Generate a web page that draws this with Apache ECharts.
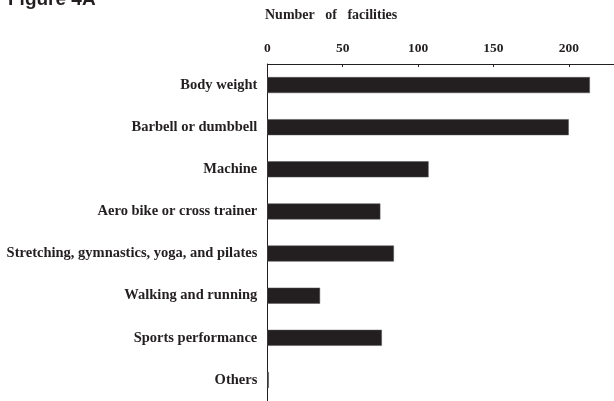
<!DOCTYPE html>
<html>
<head>
<meta charset="utf-8">
<script src="https://cdn.jsdelivr.net/npm/echarts@6/dist/echarts.min.js"></script>
<style>
html,body{margin:0;padding:0;background:#fff;}
#chart{width:614px;height:401px;}
</style>
</head>
<body>
<div id="chart"></div>
<script>
var categories = [
  "Body weight",
  "Barbell or dumbbell",
  "Machine",
  "Aero bike or cross trainer",
  "Stretching, gymnastics, yoga, and pilates",
  "Walking and running",
  "Sports performance",
  "Others"
];
var facilities = [214, 200, 107, 75, 84, 35, 76, 1];
var tickValues = [0, 50, 100, 150, 200];
var axisTitle = "Number   of   facilities";
var figureTitle = "Figure 4A";

var chart = echarts.init(document.getElementById('chart'), null, {renderer: 'canvas'});
var serif = '"Liberation Serif", "Times New Roman", serif';
chart.setOption({
  animation: false,
  backgroundColor: '#ffffff',
  graphic: [
    {
      type: 'text', left: 8, top: -10,
      style: {text: figureTitle, font: 'bold 19px "Liberation Sans", Arial, sans-serif', fill: '#231f20'}
    },
    {
      type: 'text', left: 265, top: 8.5,
      style: {text: axisTitle, font: 'bold 14px ' + serif, fill: '#231f20'}
    }
  ],
  grid: {left: 267.3, top: 64, width: 349.3, height: 338.5, containLabel: false},
  xAxis: {
    type: 'value',
    position: 'top',
    min: 0,
    max: 230,
    interval: 50,
    splitLine: {show: false},
    axisLine: {show: true, lineStyle: {color: '#231f20', width: 1}},
    axisTick: {show: true, inside: true, length: 3, lineStyle: {color: '#231f20'}},
    axisLabel: {
      margin: 8,
      showMaxLabel: false,
      color: '#231f20',
      fontFamily: serif,
      fontWeight: 'bold',
      fontSize: 13.5,
      formatter: function (v) { return tickValues.indexOf(v) >= 0 ? String(v) : ''; }
    }
  },
  yAxis: {
    type: 'category',
    inverse: true,
    data: categories,
    axisLine: {show: true, lineStyle: {color: '#231f20', width: 1}},
    axisTick: {show: false},
    axisLabel: {
      margin: 10,
      color: '#231f20',
      fontFamily: serif,
      fontWeight: 'bold',
      fontSize: 14.5
    }
  },
  series: [{
    type: 'bar',
    data: facilities,
    barWidth: 16,
    itemStyle: {color: '#231f20', borderColor: '#555', borderWidth: 0.5},
    z: 1
  }]
});
</script>
</body>
</html>
